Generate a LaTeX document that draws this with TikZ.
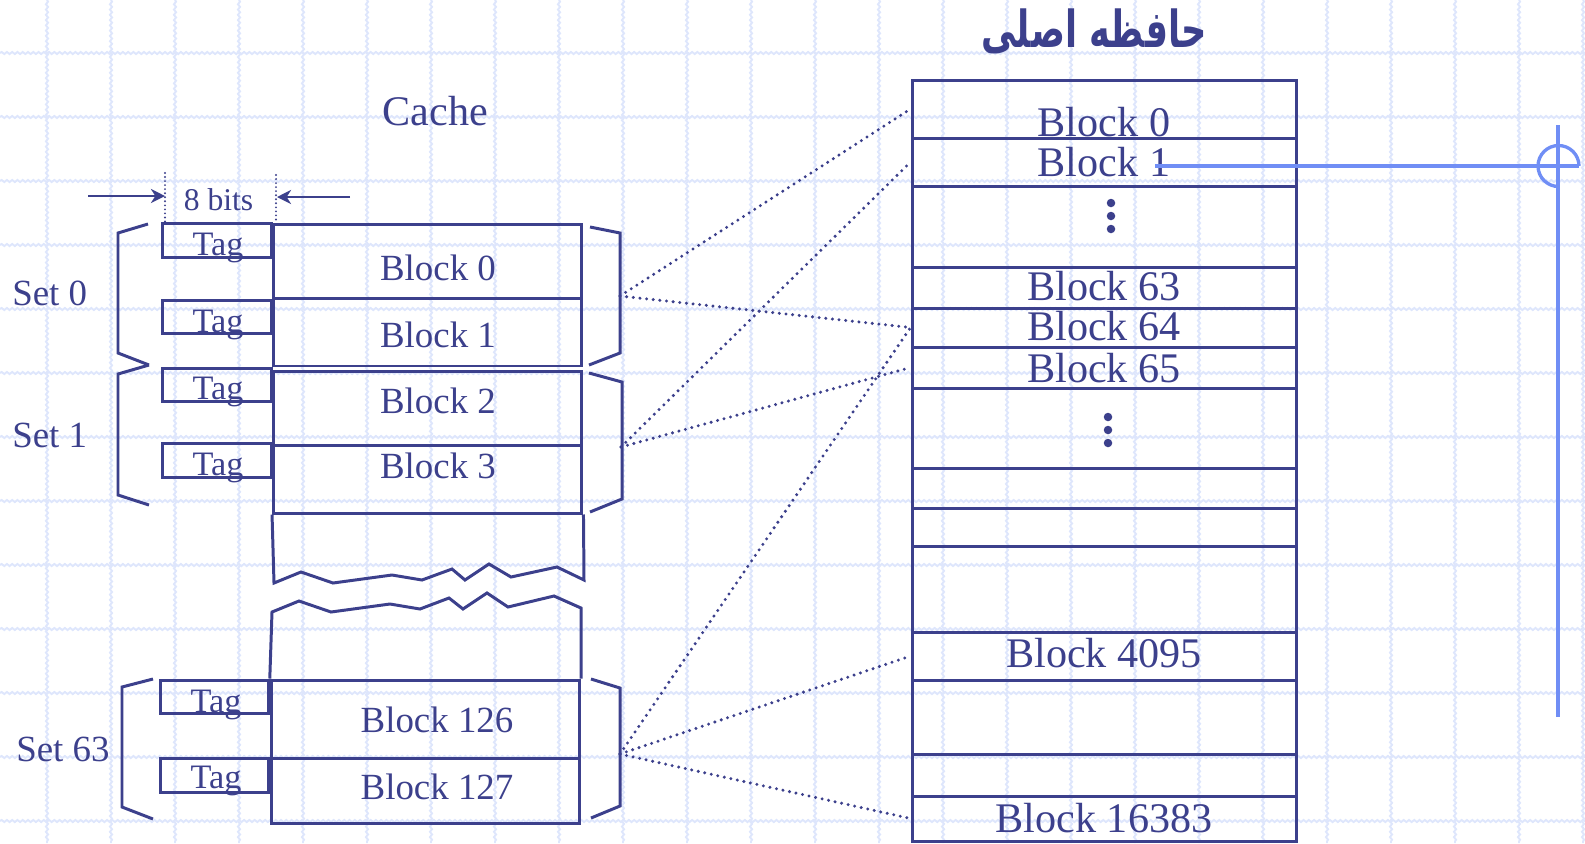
\documentclass[tikz,border=0pt]{standalone}
\usepackage{fontspec}
\setmainfont{Liberation Serif}
\newfontfamily\arabicfont[Script=Arabic]{DejaVu Sans}
\TeXXeTstate=1
\usetikzlibrary{arrows.meta, decorations.pathmorphing}
\definecolor{navyline}{RGB}{60,64,140}
\definecolor{gridblue}{RGB}{222,230,252}
\definecolor{markblue}{RGB}{112,142,245}

\begin{document}
\begin{tikzpicture}[x=0.02cm, y=-0.02cm,
        every node/.style={text=navyline},
        gridline/.style={gridblue, line width=1.1pt, decorate,
                         decoration={snake, amplitude=0.6pt, segment length=3pt}},
        cblock/.style={draw=navyline, line width=1.7pt, minimum width=6.17cm, inner sep=0pt},
        tagbox/.style={draw=navyline, line width=1.7pt, minimum width=2.18cm,
                       minimum height=0.67cm, inner sep=0pt},
        mrow/.style={draw=navyline, line width=1.7pt, minimum width=7.7cm, inner sep=0pt},
        bigtxt/.style={font=\fontsize{24}{28}\selectfont, anchor=base, inner sep=0pt},
        midtxt/.style={font=\fontsize{21}{25}\selectfont, anchor=base, inner sep=0pt},
        tagtxt/.style={font=\fontsize{19.5}{23}\selectfont, anchor=base, inner sep=0pt},
        brace/.style={navyline, line width=1.7pt},
        dotline/.style={navyline, line width=1.9pt, dash pattern=on 0pt off 3.8pt, line cap=round},
        bitline/.style={navyline, line width=1.2pt, dash pattern=on 0pt off 2.3pt, line cap=round},
        arr/.style={navyline, line width=1.4pt, -{Stealth[length=8pt, width=8pt, inset=2.5pt]}},
        markline/.style={markblue, line width=1.9pt}
    ]
    \useasboundingbox (0,0) rectangle (1585,843);
    % background grid
    \foreach \gx in {0,...,24}
        \draw[gridline] ({47+64*\gx},0) -- ({47+64*\gx},843);
    \foreach \gy in {0,...,12}
        \draw[gridline] (0,{53+64*\gy}) -- (1585,{53+64*\gy});

    % titles
    \node[bigtxt] (cachettl) at (435.5,125) {Cache};
    \node[font=\arabicfont\bfseries\fontsize{20}{24}\selectfont] (memttl) at (1094,31)
        {\scalebox{1}[1.45]{\beginR حافظه اصلی\endR}};

    % main memory
    \foreach \rt/\rb [count=\ri from 0] in {80/138, 138/186, 186/267, 267/308, 308/347,
            347/388, 388/468, 468/508, 508/546, 546/632, 632/680, 680/754, 754/796, 796/841}
        \node[mrow, minimum height={(\rb-\rt)*0.02cm}] (m\ri) at (1104.5,{(\rt+\rb)/2}) {};
    \node[bigtxt] (t0)  at (1104,136) {Block 0};
    \node[bigtxt] (t1)  at (1104,176) {Block 1};
    \node[bigtxt] (t63) at (1104,300) {Block 63};
    \node[bigtxt] (t64) at (1104,340) {Block 64};
    \node[bigtxt] (t65) at (1104,382) {Block 65};
    \node[bigtxt] (t4095)  at (1104,667) {Block 4095};
    \node[bigtxt] (t16383) at (1104,832) {Block 16383};
    \foreach \dy in {0,13,26} {
        \fill[navyline] (1111,203+\dy) circle[radius=0.085cm];
        \fill[navyline] (1108,417+\dy) circle[radius=0.085cm];
    }

    % cache
    \node[cblock, minimum height=1.48cm] (c0)   at (427.75,261)  {};
    \node[cblock, minimum height=1.36cm] (c1)   at (427.75,332)  {};
    \node[cblock, minimum height=1.48cm] (c2)   at (427.75,408)  {};
    \node[cblock, minimum height=1.36cm] (c3)   at (427.75,479)  {};
    \node[cblock, minimum height=1.56cm] (c126) at (425.5,719)   {};
    \node[cblock, minimum height=1.30cm] (c127) at (425.5,790.5) {};
    \node[midtxt] (ct0)   at (438,280) {Block 0};
    \node[midtxt] (ct1)   at (438,347) {Block 1};
    \node[midtxt] (ct2)   at (438,413) {Block 2};
    \node[midtxt] (ct3)   at (438,478) {Block 3};
    \node[midtxt] (ct126) at (437,732) {Block 126};
    \node[midtxt] (ct127) at (437,799) {Block 127};
    \draw[brace] (c3.south west) -- (274,583) -- (301,572) -- (333,583) -- (392,575)
        -- (422,580) -- (452,569) -- (465,580) -- (489,564) -- (511,577) -- (557,567)
        -- (584,580) -- (c3.south east);
    \draw[brace] (c126.north west) -- (272,612) -- (299,601) -- (331,612) -- (390,604)
        -- (420,609) -- (449,598) -- (463,609) -- (487,593) -- (508,607) -- (554,596)
        -- (581,608) -- (c126.north east);

    % tags
    \node[tagbox] (tg0)   at (217,240.5) {};
    \node[tagbox] (tg1)   at (217,317)   {};
    \node[tagbox] (tg2)   at (217,385)   {};
    \node[tagbox] (tg3)   at (217,460.5) {};
    \node[tagbox] (tg126) at (214.5,697) {};
    \node[tagbox] (tg127) at (214.5,775.5) {};
    \foreach \tn/\tx/\ty in {0/218/255, 1/218/332, 2/218/399, 3/218/475, 126/216/712, 127/216/788}
        \node[tagtxt] (tt\tn) at (\tx,\ty) {Tag};

    % 8 bits
    \coordinate (tagL) at (165,196);
    \coordinate (tagR) at (277,197);
    \draw[bitline] (165,173) -- (165,222);
    \draw[bitline] (276,175) -- (276,222);
    \draw[arr] (88,196) -- (tagL);
    \draw[arr] (350,197) -- (tagR);
    \node[font=\fontsize{18}{22}\selectfont, anchor=base, inner sep=0pt] (bits) at (218.5,210) {8 bits};

    % sets
    \node[midtxt, anchor=base west] (set0)  at (12,305) {Set 0};
    \node[midtxt, anchor=base west] (set1)  at (12,447) {Set 1};
    \node[midtxt, anchor=base west] (set63) at (16,761) {Set 63};
    \draw[brace] (148,224) -- (118,233) -- (118,353) -- (149,365);
    \draw[brace] (149,365) -- (118,374) -- (118,495) -- (149,505);
    \draw[brace] (153,679) -- (122,687) -- (122,807) -- (153,819);
    \draw[brace] (590,227) -- (620,233) -- (620,353) -- (589,365);
    \draw[brace] (589,373) -- (622,382) -- (622,499) -- (590,512);
    \draw[brace] (591,679) -- (620,688) -- (620,806) -- (591,818);

    % mapping
    \coordinate (fan0)  at (620,296);
    \coordinate (fan1)  at (621,447);
    \coordinate (fan63) at (620,754);
    \draw[dotline] (fan0)  -- (m0.west);
    \draw[dotline] (fan0)  -- (m4.west);
    \draw[dotline] (fan1)  -- (m1.west);
    \draw[dotline] (fan1)  -- (m5.west);
    \draw[dotline] (fan63) -- (m4.west);
    \draw[dotline] (fan63) -- (m10.west);
    \draw[dotline] (fan63) -- (m13.west);

    % blue marker
    \coordinate (hookend) at (1579,166);
    \draw[markline] (1155,166) -- (hookend);
    \draw[markline] (1558,125) -- (1558,717);
    \draw[markline] (hookend) arc[start angle=0, end angle=270, radius=0.41cm];
\end{tikzpicture}
\end{document}
